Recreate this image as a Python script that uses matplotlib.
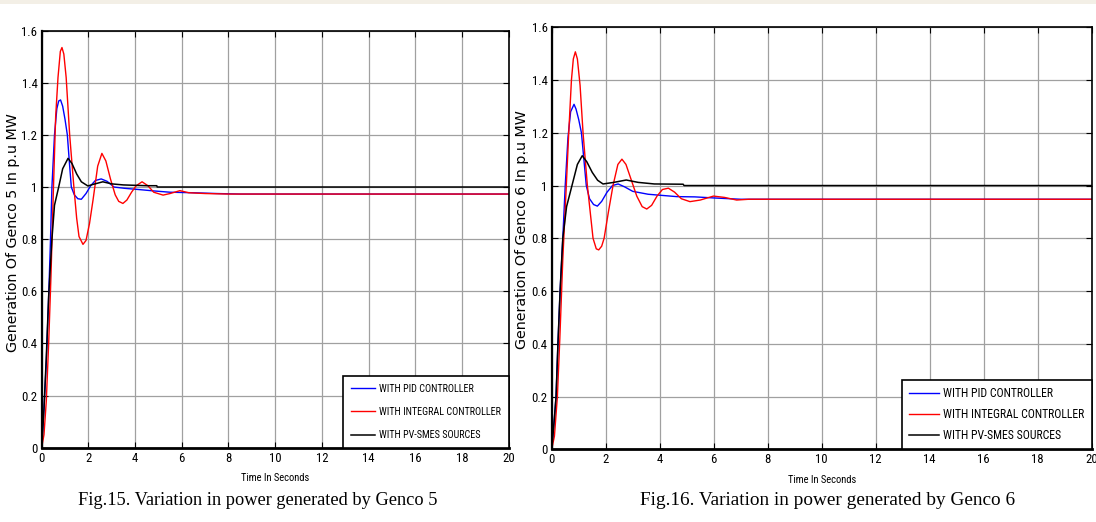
import matplotlib.pyplot as plt
from matplotlib.patches import Rectangle

# ---- Genco 5 (left) ----
t5_pid = [0, 0.1, 0.2, 0.3, 0.38, 0.44, 0.55, 0.65, 0.73, 0.81, 0.9, 1.0, 1.1, 1.2, 1.27, 1.4, 1.55, 1.7,
          1.9, 2.1, 2.3, 2.55, 2.8, 3.1, 3.55, 4.2, 4.8, 5.5, 6.5, 7.5, 8.5, 20]
g5_pid = [0, 0.15, 0.33, 0.58, 0.8, 1.0, 1.2, 1.3, 1.33, 1.334, 1.31, 1.26, 1.2, 1.08, 1.0, 0.97, 0.955, 0.953,
          0.975, 1.005, 1.025, 1.031, 1.022, 1.0, 0.995, 0.99, 0.985, 0.98, 0.978, 0.975, 0.973, 0.973]

t5_int = [0, 0.1, 0.2, 0.3, 0.4, 0.5, 0.6, 0.7, 0.8, 0.87, 0.95, 1.05, 1.2, 1.38, 1.5, 1.6, 1.77, 1.9,
          2.05, 2.2, 2.4, 2.58, 2.75, 2.95, 3.15, 3.3, 3.48, 3.65, 3.85, 4.05, 4.3, 4.55, 4.8, 5.2,
          5.5, 5.92, 6.3, 7.0, 8.0, 20]
g5_int = [0, 0.05, 0.18, 0.40, 0.66, 0.98, 1.27, 1.42, 1.52, 1.535, 1.51, 1.42, 1.2, 1.0, 0.88, 0.81, 0.78, 0.795,
          0.86, 0.95, 1.08, 1.129, 1.10, 1.03, 0.97, 0.945, 0.937, 0.95, 0.98, 1.005, 1.02, 1.005, 0.98, 0.969,
          0.975, 0.986, 0.978, 0.975, 0.973, 0.973]

t5_pv = [0, 0.1, 0.2, 0.3, 0.44, 0.55, 0.73, 0.9, 1.13, 1.3, 1.5, 1.7, 1.98, 2.2, 2.62, 3.0, 3.5, 4.5, 4.93, 4.95, 20]
g5_pv = [0, 0.15, 0.35, 0.58, 0.8, 0.93, 1.0, 1.07, 1.11, 1.09, 1.05, 1.02, 1.004, 1.01, 1.02, 1.012, 1.008, 1.005,
         1.005, 1.0, 1.0]

# ---- Genco 6 (right) ----
t6_pid = [0, 0.1, 0.16, 0.23, 0.31, 0.41, 0.5, 0.6, 0.7, 0.826, 0.9, 1.0, 1.1, 1.28, 1.4, 1.55, 1.69, 1.85,
          2.05, 2.25, 2.46, 2.7, 3.0, 3.57, 4.63, 5.3, 6.0, 7.0, 20]
g6_pid = [0, 0.12, 0.2, 0.4, 0.6, 0.8, 1.0, 1.18, 1.28, 1.308, 1.29, 1.25, 1.2, 1.0, 0.95, 0.928, 0.922, 0.94,
          0.975, 1.0, 1.006, 0.995, 0.978, 0.967, 0.958, 0.957, 0.953, 0.948, 0.948]

t6_int = [0, 0.1, 0.21, 0.3, 0.41, 0.54, 0.63, 0.73, 0.8, 0.875, 0.95, 1.05, 1.16, 1.32, 1.53, 1.65, 1.74,
          1.85, 1.94, 2.1, 2.27, 2.45, 2.6, 2.75, 2.95, 3.15, 3.35, 3.52, 3.7, 3.9, 4.1, 4.32, 4.55, 4.8,
          5.12, 5.5, 5.99, 6.4, 6.85, 7.3, 20]
g6_int = [0, 0.05, 0.2, 0.42, 0.72, 1.0, 1.2, 1.4, 1.48, 1.507, 1.48, 1.38, 1.2, 1.0, 0.8, 0.76, 0.756,
          0.77, 0.8, 0.9, 1.0, 1.08, 1.10, 1.08, 1.02, 0.96, 0.92, 0.911, 0.925, 0.96, 0.985, 0.99, 0.975, 0.95,
          0.939, 0.945, 0.96, 0.955, 0.945, 0.948, 0.948]

t6_pv = [0, 0.1, 0.16, 0.23, 0.31, 0.41, 0.55, 0.75, 0.95, 1.13, 1.3, 1.5, 1.7, 1.9, 2.3, 2.76, 3.2, 3.8, 4.87, 4.9, 20]
g6_pv = [0, 0.12, 0.2, 0.4, 0.6, 0.8, 0.92, 1.0, 1.08, 1.113, 1.09, 1.05, 1.02, 1.006, 1.012, 1.021, 1.012, 1.006,
         1.005, 1.0, 1.0]

labels = ['WITH PID CONTROLLER', 'WITH INTEGRAL CONTROLLER', 'WITH PV-SMES SOURCES']
xticks = [0, 2, 4, 6, 8, 10, 12, 14, 16, 18, 20]
yticks = [0, 0.2, 0.4, 0.6, 0.8, 1, 1.2, 1.4, 1.6]
yticklabels = ['0', '0.2', '0.4', '0.6', '0.8', '1', '1.2', '1.4', '1.6']

serif = ['Liberation Serif', 'DejaVu Serif']
narrow = ['Roboto Condensed', 'Liberation Sans']

fig = plt.figure(figsize=(10.96, 5.22), dpi=100)
fig.patch.set_facecolor('white')
fig.add_artist(Rectangle((0, 1 - 4 / 522), 1, 4 / 522, transform=fig.transFigure,
                         facecolor='#f3efe6', edgecolor='none'))

ax1 = fig.add_axes([0.038, 0.1423, 0.4261, 0.7991])
ax2 = fig.add_axes([0.5034, 0.1393, 0.4927, 0.8084])

panels = [
    (ax1, (t5_pid, g5_pid), (t5_int, g5_int), (t5_pv, g5_pv), 'Generation Of Genco 5 In p.u MW',
     7.3, 1.3, 0.75, 2.4, (-0.046, 0.517)),
    (ax2, (t6_pid, g6_pid), (t6_int, g6_int), (t6_pv, g6_pv), 'Generation Of Genco 6 In p.u MW',
     8.5, 0.68, 0.6, 2.5, (-0.043, 0.52)),
]

for ax, pid, integ, pv, ylab, lsize, lspace, bpad, hlen, ypos in panels:
    ax.plot(pid[0], pid[1], color='#0000ff', lw=1.0, label=labels[0])
    ax.plot(integ[0], integ[1], color='#ff0000', lw=1.0, label=labels[1])
    ax.plot(pv[0], pv[1], color='black', lw=1.1, label=labels[2])
    ax.set_xlim(0, 20)
    ax.set_ylim(0, 1.6)
    ax.set_xticks(xticks)
    ax.set_yticks(yticks)
    ax.set_yticklabels(yticklabels)
    ax.grid(True, color='#a0a0a0', lw=0.9, ls='-')
    ax.tick_params(direction='in', top=True, right=True, length=4, width=0.8, pad=3, labelsize=9.2)
    for lab in ax.get_xticklabels() + ax.get_yticklabels():
        lab.set_family(narrow)
    for s in ax.spines.values():
        s.set_linewidth(1.2)
    ax.spines['bottom'].set_linewidth(2)
    ax.spines['left'].set_linewidth(1.6)
    ax.set_ylabel(ylab, fontsize=10.3, family='DejaVu Sans')
    ax.yaxis.set_label_coords(*ypos)
    ax.set_xlabel('Time In Seconds', fontsize=7.6, family=narrow)
    ax.xaxis.set_label_coords(0.5, -0.06)
    leg = ax.legend(loc='lower right', borderaxespad=0, fancybox=False, framealpha=1,
                    edgecolor='black', prop={'family': narrow, 'size': lsize},
                    labelspacing=lspace, handlelength=hlen, handletextpad=0.4, borderpad=bpad)
    leg.get_frame().set_linewidth(1.2)

fig.text(0.2354, 0.025, 'Fig.15. Variation in power generated by Genco 5', ha='center', va='bottom',
         fontsize=13.2, family=serif)
fig.text(0.7555, 0.025, 'Fig.16. Variation in power generated by Genco 6', ha='center', va='bottom',
         fontsize=13.9, family=serif)

fig.savefig('out.png', dpi=100)
